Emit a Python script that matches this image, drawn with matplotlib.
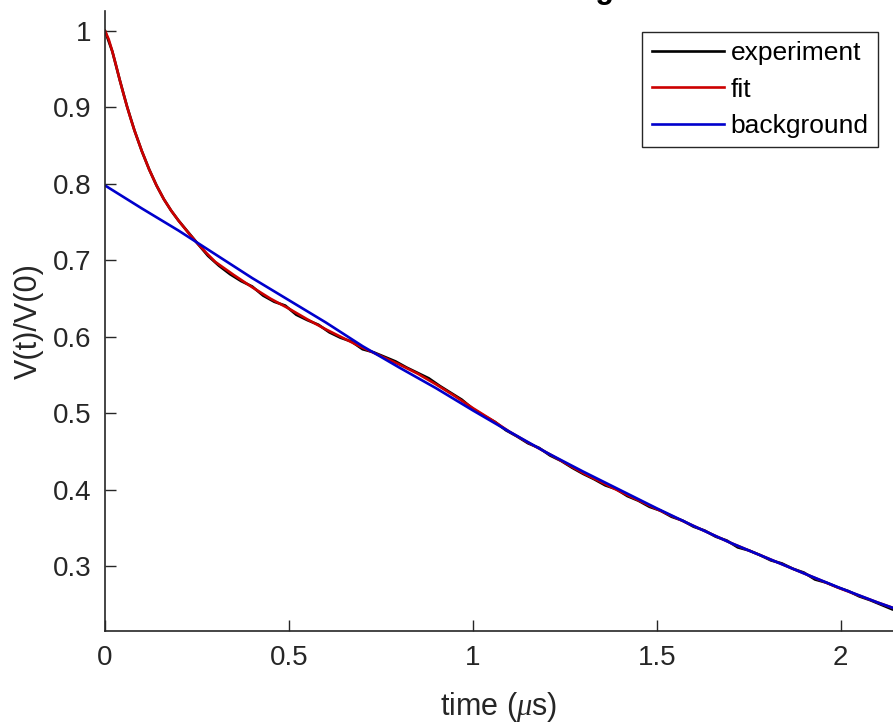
import matplotlib
matplotlib.use("Agg")
import matplotlib.pyplot as plt

plt.rcParams['font.family'] = ['Liberation Sans', 'DejaVu Sans']
plt.rcParams['mathtext.fontset'] = 'custom'
plt.rcParams['mathtext.it'] = 'Liberation Serif:italic'

# fit (red)
t_fit = [0, 0.01, 0.02, 0.03, 0.04, 0.05, 0.06, 0.07, 0.08, 0.10, 0.12, 0.14, 0.16,
         0.18, 0.20, 0.225, 0.25, 0.275, 0.30, 0.35, 0.40, 0.45, 0.50, 0.55, 0.60,
         0.65, 0.70, 0.75, 0.80, 0.85, 0.90, 0.95, 1.00, 1.05, 1.10, 1.15, 1.20, 1.30,
         1.40, 1.50, 1.60, 1.70, 1.80, 1.90, 2.00, 2.10, 2.20]
v_fit = [1.000, 0.989, 0.973, 0.955, 0.936, 0.918, 0.901, 0.885, 0.870, 0.843, 0.819,
         0.798, 0.780, 0.765, 0.752, 0.737, 0.723, 0.710, 0.698, 0.681, 0.665, 0.650,
         0.637, 0.623, 0.610, 0.598, 0.586, 0.575, 0.564, 0.552, 0.538, 0.523, 0.507,
         0.492, 0.476, 0.462, 0.449, 0.422, 0.398, 0.375, 0.353, 0.331, 0.311, 0.291,
         0.271, 0.253, 0.236]

# background (blue)
t_bg = [0, 0.1, 0.2, 0.3, 0.4, 0.5, 0.6, 0.7, 0.8, 0.9, 1.0, 1.1, 1.2, 1.3, 1.4,
        1.5, 1.6, 1.7, 1.8, 1.9, 2.0, 2.1, 2.2]
v_bg = [0.798, 0.768, 0.739, 0.708, 0.677, 0.648, 0.619, 0.588, 0.560, 0.533, 0.504,
        0.476, 0.449, 0.424, 0.400, 0.376, 0.353, 0.331, 0.311, 0.291, 0.2715, 0.253,
        0.236]

# experiment (black), mostly hidden under the fit
t_exp = [0, 0.02, 0.04, 0.06, 0.08, 0.10, 0.12, 0.14, 0.16, 0.18, 0.20, 0.25, 0.28,
         0.31, 0.34, 0.37, 0.40, 0.43, 0.46, 0.49, 0.52, 0.55, 0.58, 0.61, 0.64, 0.67,
         0.70, 0.73, 0.76, 0.79, 0.82, 0.85, 0.88, 0.91, 0.94, 0.97, 1.00, 1.03, 1.06,
         1.09, 1.12, 1.15, 1.18, 1.21, 1.24, 1.27, 1.30, 1.33, 1.36, 1.39, 1.42, 1.45,
         1.48, 1.51, 1.54, 1.57, 1.60, 1.63, 1.66, 1.69, 1.72, 1.75, 1.78, 1.81, 1.84,
         1.87, 1.90, 1.93, 1.96, 1.99, 2.02, 2.05, 2.08, 2.11, 2.14, 2.17]
v_exp = [1.000, 0.973, 0.936, 0.901, 0.870, 0.843, 0.819, 0.798, 0.780, 0.765, 0.752,
         0.723, 0.706, 0.693, 0.682, 0.673, 0.666, 0.654, 0.646, 0.641, 0.629, 0.622,
         0.616, 0.606, 0.599, 0.594, 0.584, 0.580, 0.574, 0.568, 0.560, 0.553, 0.546,
         0.536, 0.527, 0.518, 0.506, 0.497, 0.489, 0.478, 0.470, 0.461, 0.455, 0.445,
         0.438, 0.429, 0.421, 0.414, 0.406, 0.401, 0.392, 0.386, 0.378, 0.373, 0.365,
         0.360, 0.352, 0.347, 0.339, 0.334, 0.325, 0.321, 0.315, 0.308, 0.304, 0.297,
         0.292, 0.283, 0.279, 0.273, 0.268, 0.261, 0.256, 0.250, 0.244, 0.240]

x_ticks = [0, 0.5, 1, 1.5, 2]
x_ticklabels = ["0", "0.5", "1", "1.5", "2"]
y_ticks = [0.3, 0.4, 0.5, 0.6, 0.7, 0.8, 0.9, 1.0]
y_ticklabels = ["0.3", "0.4", "0.5", "0.6", "0.7", "0.8", "0.9", "1"]

W, H = 893, 724
fig = plt.figure(figsize=(W / 100, H / 100), dpi=100)
ax = fig.add_axes([105 / W, 93 / H, (W - 105) / W, 620 / H])

ax.plot(t_exp, v_exp, color="black", lw=1.9, label="experiment")
ax.plot(t_fit, v_fit, color="#cc0000", lw=1.9, label="fit")
ax.plot(t_bg, v_bg, color="#0000cc", lw=1.9, label="background")

gray = "#262626"
ax.set_xlim(0, 2.142)
ax.set_ylim(0.2157, 1.026)
ax.set_xticks(x_ticks, x_ticklabels)
ax.set_yticks(y_ticks, y_ticklabels)
ax.tick_params(direction="in", length=8, width=1, colors=gray, labelsize=20, pad=10)
for s in ["top", "right"]:
    ax.spines[s].set_visible(False)
for s in ["left", "bottom"]:
    ax.spines[s].set_color(gray)
    ax.spines[s].set_linewidth(1.2)

ax.set_xlabel(r"time ($\mu$s)", fontsize=22, color=gray, labelpad=14)
ax.set_ylabel("V(t)/V(0)", fontsize=22, color=gray, labelpad=6)

leg = ax.legend(loc="upper right", bbox_to_anchor=(878 / W, 1 - 32 / H),
                bbox_transform=fig.transFigure, borderaxespad=0, fontsize=19,
                frameon=True, fancybox=False, framealpha=1, handlelength=2.75,
                handletextpad=0.25, labelspacing=0.47, borderpad=0.35)
leg.get_frame().set_edgecolor(gray)
leg.get_frame().set_linewidth(1.0)
for txt in leg.get_texts():
    txt.set_color("black")

# title sits mostly above the visible area
fig.text(614 / W, 1 + 2 / H, "Data fitting", ha="right", va="baseline",
         fontsize=22, fontweight="bold", color="black")

fig.savefig("out.png", dpi=100)
